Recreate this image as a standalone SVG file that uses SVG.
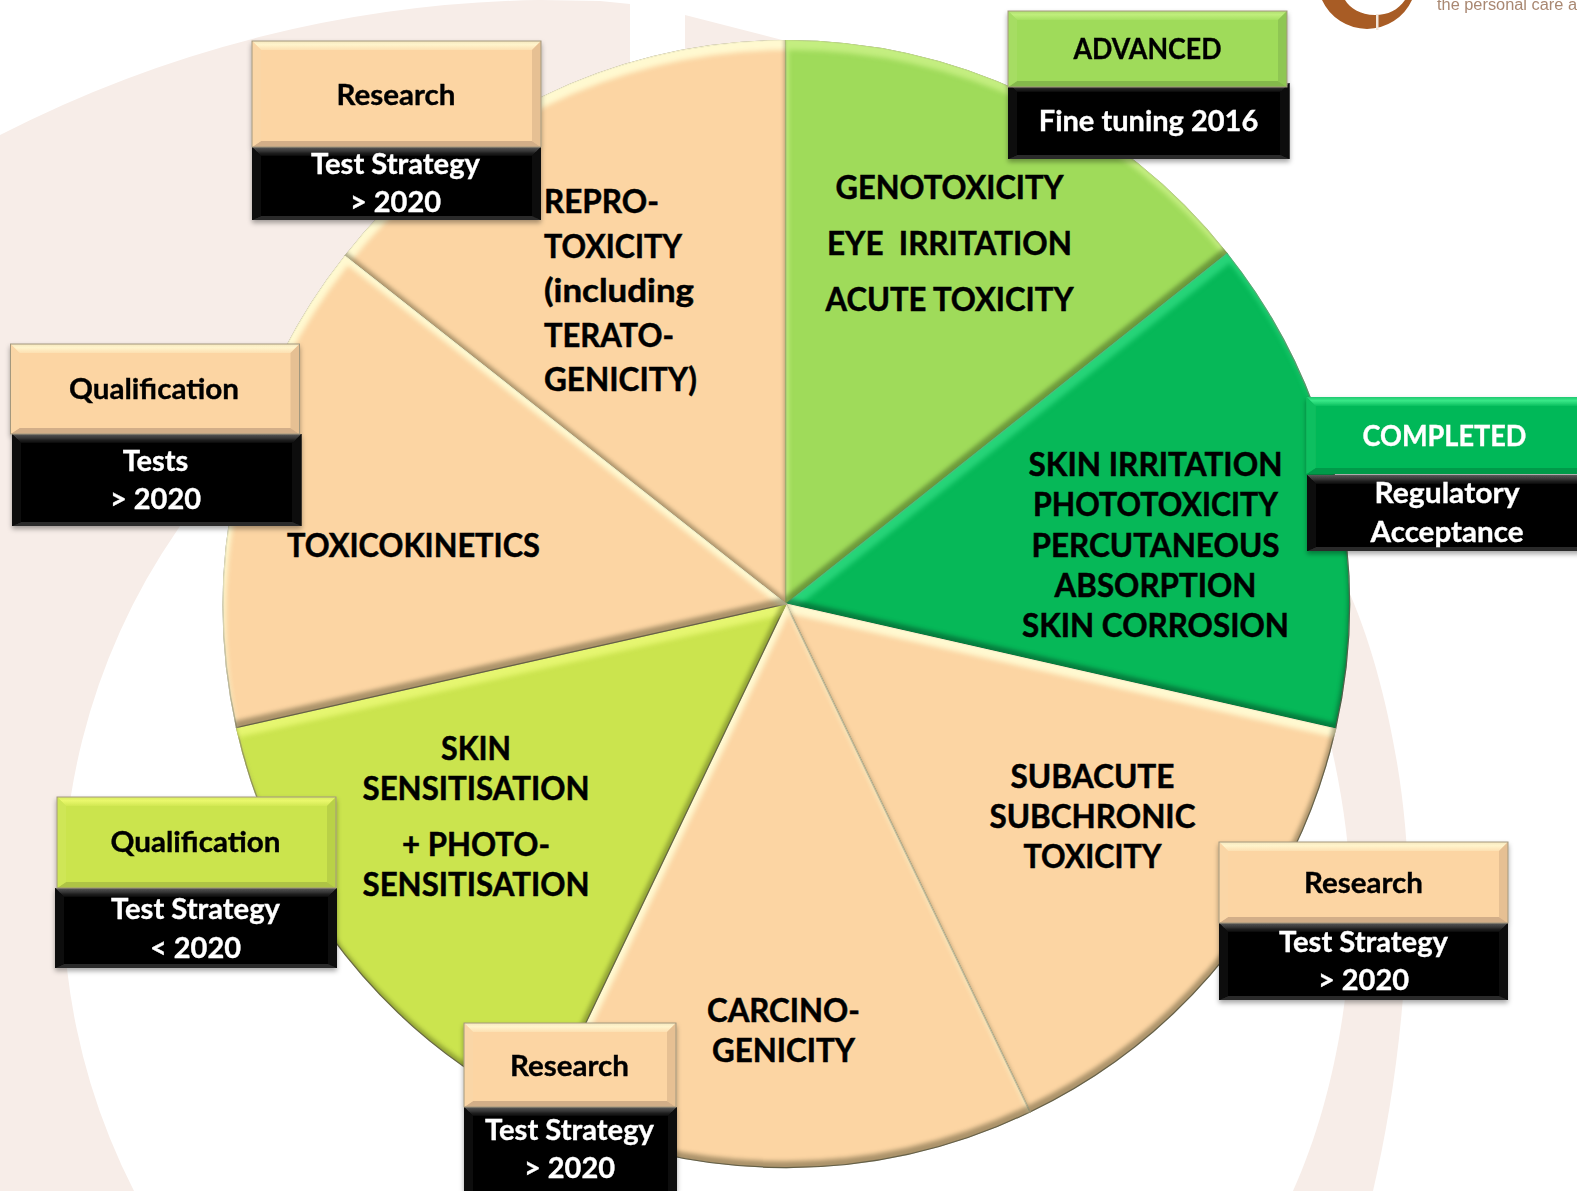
<svg xmlns="http://www.w3.org/2000/svg" width="1577" height="1191" viewBox="0 0 1577 1191">
<style>
text{font-family:Lato,"Open Sans","Liberation Sans",sans-serif;font-weight:700;white-space:pre}
.big{font-size:33px;fill:#000;text-anchor:middle;stroke:#000;stroke-width:.5}
.bl{text-anchor:start}
.lab{font-size:29px;text-anchor:middle;fill:#000;stroke:#000;stroke-width:.35}
.lab.w{fill:#fff;stroke:#fff}
.bg{fill:#f7ede8}
.slice{stroke:#7d7862;stroke-width:1.2}
.peach{fill:#fcd5a3;filter:url(#bevelP)}.lime{fill:#9fdb5a;filter:url(#bevelL)}.dark{fill:#06b858;filter:url(#bevelD)}.yel{fill:#cbe44e;filter:url(#bevelY)}
.box{filter:url(#sh)}
.o{fill:none;stroke:#a3987e;stroke-width:1}
.k .f{fill:#040404}.k .t{fill:url(#kT)}.k .r,.k .l{fill:#0c0c0c}.k .b{fill:#2a2a2a}
.pe .f{fill:#fcd5a3}.pe .t{fill:url(#peT)}.pe .l{fill:#fad6a6}.pe .r{fill:#e6c093}.pe .b{fill:#d2ae88}
.li .f{fill:#9fdb5a}.li .t{fill:url(#liT)}.li .l{fill:#a6dd64}.li .r{fill:#8fc653}.li .b{fill:#84b94c}
.ye .f{fill:#cbe44e}.ye .t{fill:url(#yeT)}.ye .l{fill:#cfe656}.ye .r{fill:#b9d147}.ye .b{fill:#aec344}
.gr .f{fill:#06b858}.gr .t{fill:url(#grT)}.gr .l{fill:#0cbf60}.gr .r{fill:#06a54e}.gr .b{fill:#059a48}
</style>
<defs>
<linearGradient id="kT" x1="0" y1="0" x2="0" y2="1"><stop offset="0" stop-color="#5a5a5a"/><stop offset="1" stop-color="#080808"/></linearGradient>
<linearGradient id="peT" x1="0" y1="0" x2="0" y2="1"><stop offset="0" stop-color="#f6e7bd"/><stop offset=".4" stop-color="#fff4cc"/><stop offset="1" stop-color="#fde0b2"/></linearGradient>
<linearGradient id="liT" x1="0" y1="0" x2="0" y2="1"><stop offset="0" stop-color="#aede70"/><stop offset=".4" stop-color="#c0ee7c"/><stop offset="1" stop-color="#a6e062"/></linearGradient>
<linearGradient id="yeT" x1="0" y1="0" x2="0" y2="1"><stop offset="0" stop-color="#d8ec60"/><stop offset=".4" stop-color="#eaf86c"/><stop offset="1" stop-color="#d2e852"/></linearGradient>
<linearGradient id="grT" x1="0" y1="0" x2="0" y2="1"><stop offset="0" stop-color="#20c870"/><stop offset=".4" stop-color="#38e888"/><stop offset="1" stop-color="#0cc060"/></linearGradient>
<filter id="sh" x="-5%" y="-5%" width="110%" height="115%"><feDropShadow dx="0" dy="3" stdDeviation="2.5" flood-color="#000" flood-opacity=".35"/></filter>
<filter id="soft" x="-2%" y="-50%" width="104%" height="200%"><feGaussianBlur stdDeviation=".5"/></filter>
<filter id="bevelP" x="-3%" y="-3%" width="106%" height="106%" color-interpolation-filters="sRGB">
<feComponentTransfer in="SourceAlpha" result="inv"><feFuncA type="table" tableValues="1 0"/></feComponentTransfer>
<feOffset in="inv" dx="3" dy="10" result="o1"/><feGaussianBlur in="o1" stdDeviation="2.500" result="b1"/>
<feFlood flood-color="#fffbd2" flood-opacity=".95"/><feComposite in2="b1" operator="in"/><feComposite in2="SourceAlpha" operator="in" result="hi"/>
<feOffset in="inv" dx="-2" dy="-7" result="o2"/><feGaussianBlur in="o2" stdDeviation="2" result="b2"/>
<feFlood flood-color="#4a4226" flood-opacity=".45"/><feComposite in2="b2" operator="in"/><feComposite in2="SourceAlpha" operator="in" result="lo"/>
<feMerge><feMergeNode in="SourceGraphic"/><feMergeNode in="hi"/><feMergeNode in="lo"/></feMerge>
</filter>
<filter id="bevelL" x="-3%" y="-3%" width="106%" height="106%" color-interpolation-filters="sRGB">
<feComponentTransfer in="SourceAlpha" result="inv"><feFuncA type="table" tableValues="1 0"/></feComponentTransfer>
<feOffset in="inv" dx="3" dy="10" result="o1"/><feGaussianBlur in="o1" stdDeviation="2.500" result="b1"/>
<feFlood flood-color="#c8f084" flood-opacity=".9"/><feComposite in2="b1" operator="in"/><feComposite in2="SourceAlpha" operator="in" result="hi"/>
<feOffset in="inv" dx="-2" dy="-7" result="o2"/><feGaussianBlur in="o2" stdDeviation="2" result="b2"/>
<feFlood flood-color="#2f4a14" flood-opacity=".45"/><feComposite in2="b2" operator="in"/><feComposite in2="SourceAlpha" operator="in" result="lo"/>
<feMerge><feMergeNode in="SourceGraphic"/><feMergeNode in="hi"/><feMergeNode in="lo"/></feMerge>
</filter>
<filter id="bevelD" x="-3%" y="-3%" width="106%" height="106%" color-interpolation-filters="sRGB">
<feComponentTransfer in="SourceAlpha" result="inv"><feFuncA type="table" tableValues="1 0"/></feComponentTransfer>
<feOffset in="inv" dx="3" dy="10" result="o1"/><feGaussianBlur in="o1" stdDeviation="2.500" result="b1"/>
<feFlood flood-color="#35e086" flood-opacity=".7"/><feComposite in2="b1" operator="in"/><feComposite in2="SourceAlpha" operator="in" result="hi"/>
<feOffset in="inv" dx="-2" dy="-7" result="o2"/><feGaussianBlur in="o2" stdDeviation="2" result="b2"/>
<feFlood flood-color="#04351c" flood-opacity=".45"/><feComposite in2="b2" operator="in"/><feComposite in2="SourceAlpha" operator="in" result="lo"/>
<feMerge><feMergeNode in="SourceGraphic"/><feMergeNode in="hi"/><feMergeNode in="lo"/></feMerge>
</filter>
<filter id="bevelY" x="-3%" y="-3%" width="106%" height="106%" color-interpolation-filters="sRGB">
<feComponentTransfer in="SourceAlpha" result="inv"><feFuncA type="table" tableValues="1 0"/></feComponentTransfer>
<feOffset in="inv" dx="3" dy="10" result="o1"/><feGaussianBlur in="o1" stdDeviation="2.500" result="b1"/>
<feFlood flood-color="#e6f672" flood-opacity=".95"/><feComposite in2="b1" operator="in"/><feComposite in2="SourceAlpha" operator="in" result="hi"/>
<feOffset in="inv" dx="-2" dy="-7" result="o2"/><feGaussianBlur in="o2" stdDeviation="2" result="b2"/>
<feFlood flood-color="#4a5214" flood-opacity=".45"/><feComposite in2="b2" operator="in"/><feComposite in2="SourceAlpha" operator="in" result="lo"/>
<feMerge><feMergeNode in="SourceGraphic"/><feMergeNode in="hi"/><feMergeNode in="lo"/></feMerge>
</filter>
</defs>

<rect width="1577" height="1191" fill="#fff"/>
<g id="background">
<path class="bg" d="M0,135A1221,1221 0 0 1 540,0L600,1 630,4V300H340V367A645,645 0 0 0 134,1191H0Z"/>
<path class="bg" d="M685,15L786,41V120H685Z"/>
<path class="bg" d="M1346,585C1385,670 1410,800 1408,900C1406,1010 1392,1110 1373,1191H1293C1330,1110 1352,1000 1351,900C1350,840 1340,780 1325,720Z"/>
</g>

<g id="logo">
<path fill="#a85c25" d="M1322,0A49.500,49.500 0 0 0 1412,0H1405C1398,10 1388,15 1375,15C1360,15 1350,8 1345,0Z"/>
<rect x="1376" y="14" width="2.500" height="16" fill="#f3e6da"/>
<text x="1437" y="10" font-size="16" style="font-family:'Liberation Sans',sans-serif;font-weight:400;fill:#a98872" filter="url(#soft)" textLength="140" lengthAdjust="spacingAndGlyphs">the personal care a</text>
</g>

<g id="pie-slices">
<path id="slice-repro" class="slice peach" d="M786,604L345,256A563.500,563.500 0 0 1 786,40.500Z"/>
<path id="slice-genotox" class="slice lime" d="M786,604V40.500A563.500,563.500 0 0 1 1227,253.500Z"/>
<path id="slice-irritation" class="slice dark" d="M786,604L1227,253.500A563.500,563.500 0 0 1 1335.500,729Z"/>
<path id="slice-subacute" class="slice peach" d="M786,604L1335.500,729A563.500,563.500 0 0 1 1030,1112Z"/>
<path id="slice-carcino" class="slice peach" d="M786,604L1030,1112A563.500,563.500 0 0 1 543,1112.500Z"/>
<path id="slice-sensitisation" class="slice yel" d="M786,604L543,1112.500A563.500,563.500 0 0 1 236.500,727.500Z"/>
<path id="slice-toxicokinetics" class="slice peach" d="M786,604L236.500,727.500A563.500,563.500 0 0 1 345,256Z"/>
</g>

<g id="slice-labels">
<text class="big" x="949.500" y="199" textLength="228" lengthAdjust="spacingAndGlyphs">GENOTOXICITY</text>
<text class="big" x="949.500" y="255" textLength="245" lengthAdjust="spacingAndGlyphs">EYE  IRRITATION</text>
<text class="big" x="949.500" y="311" textLength="248" lengthAdjust="spacingAndGlyphs">ACUTE TOXICITY</text>
<text class="big" x="1155.500" y="476" textLength="254" lengthAdjust="spacingAndGlyphs">SKIN IRRITATION</text>
<text class="big" x="1155.500" y="516" textLength="245" lengthAdjust="spacingAndGlyphs">PHOTOTOXICITY</text>
<text class="big" x="1155.500" y="557" textLength="248" lengthAdjust="spacingAndGlyphs">PERCUTANEOUS</text>
<text class="big" x="1155.500" y="597" textLength="202" lengthAdjust="spacingAndGlyphs">ABSORPTION</text>
<text class="big" x="1155.500" y="637" textLength="267" lengthAdjust="spacingAndGlyphs">SKIN CORROSION</text>
<text class="big bl" x="544" y="213" textLength="115" lengthAdjust="spacingAndGlyphs">REPRO-</text>
<text class="big bl" x="544" y="258" textLength="138" lengthAdjust="spacingAndGlyphs">TOXICITY</text>
<text class="big bl" x="544" y="302" textLength="150" lengthAdjust="spacingAndGlyphs">(including</text>
<text class="big bl" x="544" y="347" textLength="130" lengthAdjust="spacingAndGlyphs">TERATO-</text>
<text class="big bl" x="544" y="391" textLength="153" lengthAdjust="spacingAndGlyphs">GENICITY)</text>
<text class="big" x="413.500" y="557" textLength="253" lengthAdjust="spacingAndGlyphs">TOXICOKINETICS</text>
<text class="big" x="476" y="760" textLength="70" lengthAdjust="spacingAndGlyphs">SKIN</text>
<text class="big" x="476" y="800" textLength="227" lengthAdjust="spacingAndGlyphs">SENSITISATION</text>
<text class="big" x="476" y="856" textLength="148" lengthAdjust="spacingAndGlyphs">+ PHOTO-</text>
<text class="big" x="476" y="896" textLength="227" lengthAdjust="spacingAndGlyphs">SENSITISATION</text>
<text class="big" x="1092.500" y="788" textLength="164" lengthAdjust="spacingAndGlyphs">SUBACUTE</text>
<text class="big" x="1092.500" y="828" textLength="206" lengthAdjust="spacingAndGlyphs">SUBCHRONIC</text>
<text class="big" x="1092.500" y="868" textLength="138" lengthAdjust="spacingAndGlyphs">TOXICITY</text>
<text class="big" x="783.500" y="1022" textLength="153" lengthAdjust="spacingAndGlyphs">CARCINO-</text>
<text class="big" x="783.500" y="1062" textLength="143" lengthAdjust="spacingAndGlyphs">GENICITY</text>
</g>

<g id="box-research-top" class="box">
<g class="k"><rect class="f" x="252" y="147" width="289" height="73"/><polygon class="t" points="252,147 541,147 532,156 261,156"/><polygon class="r" points="541,147 541,220 532,216 532,156"/><polygon class="b" points="252,220 541,220 532,216 261,216"/><polygon class="l" points="252,147 252,220 261,216 261,156"/></g>
<g class="pe"><rect class="f" x="252" y="41" width="289" height="106"/><polygon class="t" points="252,41 541,41 532,50 261,50"/><polygon class="r" points="541,41 541,147 532,141 532,50"/><polygon class="b" points="252,147 541,147 532,141 261,141"/><polygon class="l" points="252,41 252,147 261,141 261,50"/><rect class="o" x="252" y="41" width="289" height="106"/></g>
<text class="lab" x="396" y="105" textLength="119" lengthAdjust="spacingAndGlyphs">Research</text>
<text class="lab w" x="395.500" y="174" textLength="169" lengthAdjust="spacingAndGlyphs">Test Strategy</text>
<text class="lab w" x="395.500" y="212">&gt; 2020</text>
</g>

<g id="box-qualification-tests" class="box">
<g class="k"><rect class="f" x="12" y="434" width="289.500" height="92"/><polygon class="t" points="12,434 301.500,434 292.500,443 21,443"/><polygon class="r" points="301.500,434 301.500,526 292.500,522 292.500,443"/><polygon class="b" points="12,526 301.500,526 292.500,522 21,522"/><polygon class="l" points="12,434 12,526 21,522 21,443"/></g>
<g class="pe"><rect class="f" x="10.500" y="344" width="289" height="90"/><polygon class="t" points="10.500,344 299.500,344 290.500,353 19.500,353"/><polygon class="r" points="299.500,344 299.500,434 290.500,428 290.500,353"/><polygon class="b" points="10.500,434 299.500,434 290.500,428 19.500,428"/><polygon class="l" points="10.500,344 10.500,434 19.500,428 19.500,353"/><rect class="o" x="10.500" y="344" width="289" height="90"/></g>
<text class="lab" x="154" y="399" textLength="170" lengthAdjust="spacingAndGlyphs">Qualification</text>
<text class="lab w" x="155.500" y="471">Tests</text>
<text class="lab w" x="155.500" y="509">&gt; 2020</text>
</g>

<g id="box-advanced" class="box">
<g class="k"><rect class="f" x="1008" y="83" width="281.500" height="76"/><polygon class="t" points="1008,83 1289.500,83 1280.500,92 1017,92"/><polygon class="r" points="1289.500,83 1289.500,159 1280.500,155 1280.500,92"/><polygon class="b" points="1008,159 1289.500,159 1280.500,155 1017,155"/><polygon class="l" points="1008,83 1008,159 1017,155 1017,92"/></g>
<g class="li"><rect class="f" x="1008" y="11" width="279" height="76"/><polygon class="t" points="1008,11 1287,11 1278,20 1017,20"/><polygon class="r" points="1287,11 1287,87 1278,81 1278,20"/><polygon class="b" points="1008,87 1287,87 1278,81 1017,81"/><polygon class="l" points="1008,11 1008,87 1017,81 1017,20"/><rect class="o" x="1008" y="11" width="279" height="76"/></g>
<text class="lab" x="1147.500" y="59" textLength="148" lengthAdjust="spacingAndGlyphs">ADVANCED</text>
<text class="lab w" x="1148.500" y="131">Fine tuning 2016</text>
</g>

<g id="box-completed" class="box">
<g class="k"><rect class="f" x="1307" y="475" width="280" height="76"/><polygon class="t" points="1307,475 1587,475 1587,484 1316,484"/><polygon class="b" points="1307,551 1587,551 1587,547 1316,547"/><polygon class="l" points="1307,475 1307,551 1316,547 1316,484"/></g>
<g class="gr"><rect class="f" x="1306.500" y="397" width="280" height="77"/><polygon class="t" points="1306.500,397 1587,397 1587,406 1315.500,406"/><polygon class="b" points="1306.500,474 1587,474 1587,468 1315.500,468"/><polygon class="l" points="1306.500,397 1306.500,474 1315.500,468 1315.500,406"/></g>
<text class="lab w" x="1444.500" y="446" textLength="164" lengthAdjust="spacingAndGlyphs">COMPLETED</text>
<text class="lab w" x="1447" y="503" textLength="145" lengthAdjust="spacingAndGlyphs">Regulatory</text>
<text class="lab w" x="1447" y="542" textLength="153" lengthAdjust="spacingAndGlyphs">Acceptance</text>
</g>

<g id="box-research-right" class="box">
<g class="k"><rect class="f" x="1219" y="923" width="289" height="77"/><polygon class="t" points="1219,923 1508,923 1499,932 1228,932"/><polygon class="r" points="1508,923 1508,1000 1499,996 1499,932"/><polygon class="b" points="1219,1000 1508,1000 1499,996 1228,996"/><polygon class="l" points="1219,923 1219,1000 1228,996 1228,932"/></g>
<g class="pe"><rect class="f" x="1219" y="842" width="289" height="81"/><polygon class="t" points="1219,842 1508,842 1499,851 1228,851"/><polygon class="r" points="1508,842 1508,923 1499,917 1499,851"/><polygon class="b" points="1219,923 1508,923 1499,917 1228,917"/><polygon class="l" points="1219,842 1219,923 1228,917 1228,851"/><rect class="o" x="1219" y="842" width="289" height="81"/></g>
<text class="lab" x="1363.500" y="893" textLength="119" lengthAdjust="spacingAndGlyphs">Research</text>
<text class="lab w" x="1363.500" y="952" textLength="169" lengthAdjust="spacingAndGlyphs">Test Strategy</text>
<text class="lab w" x="1363.500" y="990">&gt; 2020</text>
</g>

<g id="box-qualification-strategy" class="box">
<g class="k"><rect class="f" x="55" y="888" width="282" height="80"/><polygon class="t" points="55,888 337,888 328,897 64,897"/><polygon class="r" points="337,888 337,968 328,964 328,897"/><polygon class="b" points="55,968 337,968 328,964 64,964"/><polygon class="l" points="55,888 55,968 64,964 64,897"/></g>
<g class="ye"><rect class="f" x="57" y="797" width="279" height="91"/><polygon class="t" points="57,797 336,797 327,806 66,806"/><polygon class="r" points="336,797 336,888 327,882 327,806"/><polygon class="b" points="57,888 336,888 327,882 66,882"/><polygon class="l" points="57,797 57,888 66,882 66,806"/><rect class="o" x="57" y="797" width="279" height="91"/></g>
<text class="lab" x="195.500" y="852" textLength="170" lengthAdjust="spacingAndGlyphs">Qualification</text>
<text class="lab w" x="195.500" y="919" textLength="169" lengthAdjust="spacingAndGlyphs">Test Strategy</text>
<text class="lab w" x="195.500" y="958">&lt; 2020</text>
</g>

<g id="box-research-bottom" class="box">
<g class="k"><rect class="f" x="464" y="1107" width="213" height="84"/><polygon class="t" points="464,1107 677,1107 668,1116 473,1116"/><polygon class="r" points="677,1107 677,1191 668,1191 668,1116"/><polygon class="l" points="464,1107 464,1191 473,1191 473,1116"/></g>
<g class="pe"><rect class="f" x="464" y="1023" width="212" height="84"/><polygon class="t" points="464,1023 676,1023 667,1032 473,1032"/><polygon class="r" points="676,1023 676,1107 667,1101 667,1032"/><polygon class="b" points="464,1107 676,1107 667,1101 473,1101"/><polygon class="l" points="464,1023 464,1107 473,1101 473,1032"/><rect class="o" x="464" y="1023" width="212" height="84"/></g>
<text class="lab" x="569.500" y="1076" textLength="119" lengthAdjust="spacingAndGlyphs">Research</text>
<text class="lab w" x="569.500" y="1140" textLength="169" lengthAdjust="spacingAndGlyphs">Test Strategy</text>
<text class="lab w" x="569.500" y="1178">&gt; 2020</text>
</g>
</svg>
